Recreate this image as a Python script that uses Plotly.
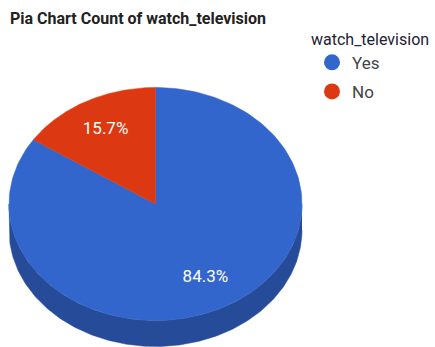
import numpy as np
import plotly.graph_objects as go

# Survey answers and their counts
categories = ["Yes", "No"]
counts = [43, 8]
top_colors = ["#3366CC", "#DC3912"]
side_colors = ["#264C99", "#A52B0E"]

# Pixel geometry of the tilted pie (canvas is 435 x 347)
W, H = 435, 347
CX, CY = 155.5, 204.0      # centre of the top face
RX, RY = 146.5, 116.5      # ellipse radii of the top face
DEPTH = 26                 # thickness of the side wall
LABEL_R = 0.72             # label distance as a fraction of the radius
FONT = "Roboto, Arial, sans-serif"


def rim(t0, t1, n=200):
    """Points on the top-face ellipse; angles in degrees, clockwise from 12 o'clock."""
    t = np.radians(np.linspace(t0, t1, n))
    return CX + RX * np.sin(t), CY - RY * np.cos(t)


values = np.array(counts, dtype=float)
shares = values / values.sum()
edges = np.concatenate([[0.0], np.cumsum(shares) * 360.0])

fig = go.Figure()

# Side walls: only the front half (90..270 deg) of the pie is visible
for i, cat in enumerate(categories):
    a, b = max(edges[i], 90.0), min(edges[i + 1], 270.0)
    if b <= a:
        continue
    xs, ys = rim(a, b)
    px = np.concatenate([xs, xs[::-1]])
    py = np.concatenate([ys, ys[::-1] + DEPTH])
    fig.add_trace(go.Scatter(
        x=px, y=py, mode="lines", fill="toself",
        fillcolor=side_colors[i], line=dict(color=side_colors[i], width=0.5),
        hoverinfo="skip", showlegend=False,
    ))

# Top faces of the slices
for i, cat in enumerate(categories):
    xs, ys = rim(edges[i], edges[i + 1])
    px = np.concatenate([[CX], xs, [CX]])
    py = np.concatenate([[CY], ys, [CY]])
    fig.add_trace(go.Scatter(
        x=px, y=py, mode="lines", fill="toself",
        fillcolor=top_colors[i], line=dict(color=top_colors[i], width=0.5),
        hoverinfo="skip", showlegend=False,
    ))

# Percentage labels at the middle of each slice
mids = np.radians((edges[:-1] + edges[1:]) / 2.0)
fig.add_trace(go.Scatter(
    x=CX + RX * LABEL_R * np.sin(mids),
    y=CY - RY * LABEL_R * np.cos(mids),
    mode="text",
    text=[f"{s * 100:.1f}%" for s in shares],
    textfont=dict(family=FONT, size=17, color="#FFFFFF"),
    hoverinfo="skip", showlegend=False,
))

# Legend entries
for i, cat in enumerate(categories):
    fig.add_trace(go.Scatter(
        x=[None], y=[None], mode="markers", name=cat,
        marker=dict(symbol="circle", size=16, color=top_colors[i]),
        legendgroup=cat,
    ))

fig.update_layout(
    width=W, height=H,
    margin=dict(l=0, r=0, t=0, b=0),
    paper_bgcolor="white", plot_bgcolor="white",
    xaxis=dict(range=[0, W], visible=False, fixedrange=True),
    yaxis=dict(range=[H, 0], visible=False, fixedrange=True),
    title=dict(
        text="<b>Pia Chart Count of watch_television</b>",
        font=dict(family=FONT, size=16, color="#222222"),
        xref="container", yref="container",
        x=10 / W, xanchor="left", y=1 - 18 / H, yanchor="middle",
    ),
    legend=dict(
        title=dict(text="watch_television",
                   font=dict(family=FONT, size=16, color="#222233")),
        font=dict(family=FONT, size=17, color="#444444"),
        x=309 / W, xanchor="left", y=1 - 24 / H, yanchor="top",
        bgcolor="rgba(0,0,0,0)", traceorder="grouped", tracegroupgap=4,
        indentation=3,
    ),
    showlegend=True,
)

fig.write_html("out.html")
